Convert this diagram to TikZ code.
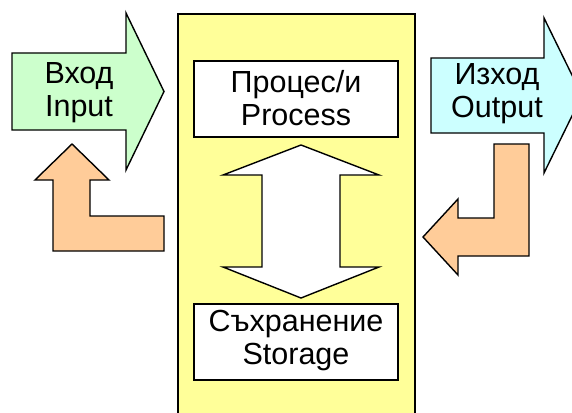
\documentclass[tikz,border=0pt]{standalone}
\usepackage{fontspec}
\setmainfont{Liberation Sans}
\definecolor{panelyellow}{HTML}{FFFF99}
\definecolor{ingreen}{HTML}{CCFFCC}
\definecolor{outcyan}{HTML}{CCFFFF}
\definecolor{looporange}{HTML}{FFCC99}
\begin{document}
\begin{tikzpicture}[x=1pt, y=-1pt,
  outline/.style={draw=black, line width=1.4pt, line join=miter},
  caption/.style={font=\fontsize{30.5}{33}\selectfont, align=center, inner sep=0pt},
  stagebox/.style={outline, fill=white, minimum width=204pt, minimum height=76pt, inner sep=0pt}]
\useasboundingbox (0,0) rectangle (572,412);
\fill[white] (0,0) rectangle (572,412);

% central system panel
\draw[outline, fill=panelyellow] (178,14) rectangle (415,440);

% feedback arrow on the input side
\draw[outline, fill=looporange] (72,144) -- (109,180) -- (90,180) -- (90,216) -- (164,216)
  -- (164,251) -- (53,251) -- (53,180) -- (35,180) -- cycle;

% feedback arrow on the output side
\draw[outline, fill=looporange] (529,144) -- (529,256) -- (458,256) -- (458,275) -- (423,237)
  -- (458,199) -- (458,218) -- (494,218) -- (494,144) -- cycle;

% input block arrow
\draw[outline, fill=ingreen] (12,53) -- (126,53) -- (126,13) -- (164,91.5) -- (126,170)
  -- (126,130) -- (12,130) -- cycle;
\node[caption] (input) at (79,93) {Вход\\Input};

% output block arrow
\draw[outline, fill=outcyan] (431,58) -- (544,58) -- (544,18) -- (582,95.5) -- (544,173)
  -- (544,133) -- (431,133) -- cycle;
\node[caption] (output) at (497,94) {Изход\\Output};

% two-way exchange between process and storage
\draw[outline, fill=white] (301,145) -- (379,175) -- (340,175) -- (340,267) -- (379,267)
  -- (301,298) -- (223,267) -- (262,267) -- (262,175) -- (223,175) -- cycle;

% process and storage boxes
\node[stagebox] (process) at (296,99) {};
\node[caption] (processtext) at ([yshift=1pt]process.center) {Процес/и\\Process};
\node[stagebox] (storage) at (296,342) {};
\node[caption] (storagetext) at ([yshift=1pt]storage.center) {Съхранение\\Storage};
\end{tikzpicture}
\end{document}
